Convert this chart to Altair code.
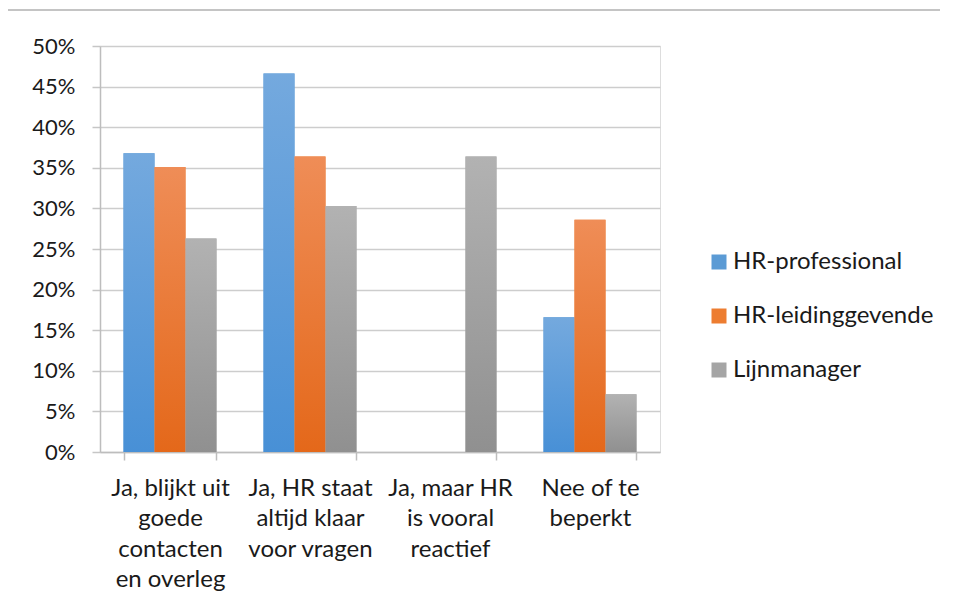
import altair as alt
import pandas as pd

categories = [
    "Ja, blijkt uit goede contacten en overleg",
    "Ja, HR staat altijd klaar voor vragen",
    "Ja, maar HR is vooral reactief",
    "Nee of te beperkt",
]
label_lines = [
    ["Ja, blijkt uit", "goede", "contacten", "en overleg"],
    ["Ja, HR staat", "altijd klaar", "voor vragen"],
    ["Ja, maar HR", "is vooral", "reactief"],
    ["Nee of te", "beperkt"],
]
series = ["HR-professional", "HR-leidinggevende", "Lijnmanager"]
colors = ["#5b9bd5", "#ed7d31", "#a5a5a5"]
grad_top = ["#74a9de", "#ef8d57", "#b2b2b2"]
grad_bottom = ["#4890d6", "#e4681a", "#909090"]
hr_professional = [0.368, 0.466, 0.0, 0.166]
hr_leidinggevende = [0.351, 0.364, 0.0, 0.286]
lijnmanager = [0.263, 0.303, 0.364, 0.071]
y_ticks = [0, 0.05, 0.10, 0.15, 0.20, 0.25, 0.30, 0.35, 0.40, 0.45, 0.50]

rows = []
for s, vals in zip(series, [hr_professional, hr_leidinggevende, lijnmanager]):
    for c, v in zip(categories, vals):
        rows.append({"category": c, "series": s, "value": v})
df = pd.DataFrame(rows)

expr = ""
for c, lines in zip(categories, label_lines):
    arr = "[" + ",".join("'" + l + "'" for l in lines) + "]"
    expr += f"datum.label == '{c}' ? {arr} : "
expr += "datum.label"

FONT = "Lato"

x_enc = alt.X(
    "category:N",
    sort=categories,
    scale=alt.Scale(paddingInner=0.336, paddingOuter=0.168),
    axis=alt.Axis(
        title=None,
        labelAngle=0,
        labelExpr=expr,
        labelFontSize=24,
        labelLineHeight=30.5,
        labelBaseline="top",
        labelPadding=16,
        labelColor="#1a1a1a",
        labelFont=FONT,
        labelLimit=300,
        tickBand="extent",
        tickSize=8,
        tickColor="#bdbdbd",
        tickWidth=1.5,
        domainColor="#bdbdbd",
        domainWidth=1.5,
        grid=False,
    ),
)
xoff_enc = alt.XOffset("series:N", sort=series, scale=alt.Scale(domain=series, paddingInner=0, paddingOuter=0))
y_enc = alt.Y(
    "value:Q",
    scale=alt.Scale(domain=[0, 0.5], nice=False),
    axis=alt.Axis(
        title=None,
        values=y_ticks,
        format=".0%",
        labelFontSize=22,
        labelFont=FONT,
        labelColor="#1a1a1a",
        labelPadding=17,
        tickSize=8,
        tickColor="#c6c6c6",
        tickWidth=1.5,
        domainColor="#bdbdbd",
        domainWidth=1.5,
        grid=True,
        gridColor="#cdcdcd",
        gridWidth=1.5,
    ),
)

base = alt.Chart(df).mark_bar().encode(
    x=x_enc,
    xOffset=xoff_enc,
    y=y_enc,
    color=alt.Color(
        "series:N",
        sort=series,
        scale=alt.Scale(domain=series, range=colors),
        legend=alt.Legend(
            title=None,
            orient="none",
            legendX=607,
            legendY=204,
            symbolType="square",
            symbolSize=225,
            symbolStrokeWidth=0,
            labelFontSize=24,
            labelFont=FONT,
            labelColor="#1a1a1a",
            labelLimit=400,
            rowPadding=30,
            labelOffset=2,
        ),
    ),
)

overlays = []
for s, top, bot in zip(series, grad_top, grad_bottom):
    overlays.append(
        alt.Chart(df).transform_filter(alt.datum.series == s).mark_bar(
            color=alt.Gradient(
                gradient="linear",
                x1=0, x2=0, y1=0, y2=1,
                stops=[alt.GradientStop(color=top, offset=0), alt.GradientStop(color=bot, offset=1)],
            )
        ).encode(x=alt.X("category:N", sort=categories), xOffset=alt.XOffset("series:N", sort=series), y="value:Q")
    )

one = pd.DataFrame({"a": [0]})
border_top = alt.Chart(one).mark_rect(fill="#c4c4c4", strokeWidth=0).encode(
    x=alt.value(-92), x2=alt.value(840), y=alt.value(-37), y2=alt.value(-35)
)

chart = alt.layer(base, *overlays, border_top).properties(
    width=560,
    height=406,
    autosize=alt.AutoSizeParams(type="none"),
    padding={"left": 92, "top": 38, "right": 290, "bottom": 140},
).configure_view(stroke=None).configure(background="white")

chart.save("out.html", embed_options={"renderer": "svg", "actions": False})
